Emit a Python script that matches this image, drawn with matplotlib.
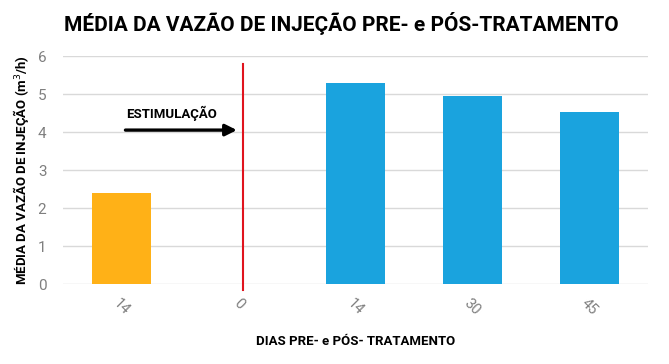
import matplotlib.pyplot as plt

# Dados
dias = ['14', '0', '14', '30', '45']
vazao = [2.4, 0, 5.3, 4.94, 4.53]
cores = ['#FFB117', '#1AA3DE', '#1AA3DE', '#1AA3DE', '#1AA3DE']
y_ticks = [0, 1, 2, 3, 4, 5, 6]

plt.rcParams['font.family'] = ['Roboto', 'DejaVu Sans']

fig = plt.figure(figsize=(6.69, 3.64), dpi=100)
ax = fig.add_axes([63 / 669, 80 / 364, 585 / 669, 228 / 364])

x = list(range(len(dias)))
ax.bar(x, vazao, width=0.5, color=cores, zorder=3)

# Linha vermelha no dia 0 (estimulação)
ax.plot([1.04, 1.04], [5.8, -0.17], color='#E0141E', lw=1.5, clip_on=False, zorder=4)

# Seta e texto
ax.annotate('', xy=(1.01, 4.05), xytext=(0.01, 4.05),
            arrowprops=dict(arrowstyle='-|>', color='black', lw=2.4, mutation_scale=17))
ax.text(0.04, 4.5, 'ESTIMULAÇÃO', fontsize=9.5, fontweight='bold', va='center')

ax.set_xlim(-0.5, 4.5)
ax.set_ylim(0, 6)
ax.set_yticks(y_ticks)
ax.set_xticks(x)
ax.set_xticklabels(dias, rotation=-45, ha='center', color='#7f7f7f', fontsize=10.5)
ax.tick_params(axis='y', colors='#7f7f7f', labelsize=11, length=0, pad=12)
ax.tick_params(axis='x', length=0, pad=9)
ax.grid(axis='y', color='#d9d9d9', lw=1, zorder=0)
for s in ax.spines.values():
    s.set_visible(False)

ax.set_xlabel('DIAS PRE- e PÓS- TRATAMENTO', fontsize=9.5, fontweight='bold', labelpad=12)
ax.set_ylabel('MÉDIA DA VAZÃO DE INJEÇÃO (m$^3$/h)', fontsize=9.5, fontweight='bold', labelpad=5)

fig.text(0.51, 0.935, 'MÉDIA DA VAZÃO DE INJEÇÃO PRE- e PÓS-TRATAMENTO',
         ha='center', va='center', fontsize=15, fontweight='bold')

fig.savefig('out.png', dpi=100)
